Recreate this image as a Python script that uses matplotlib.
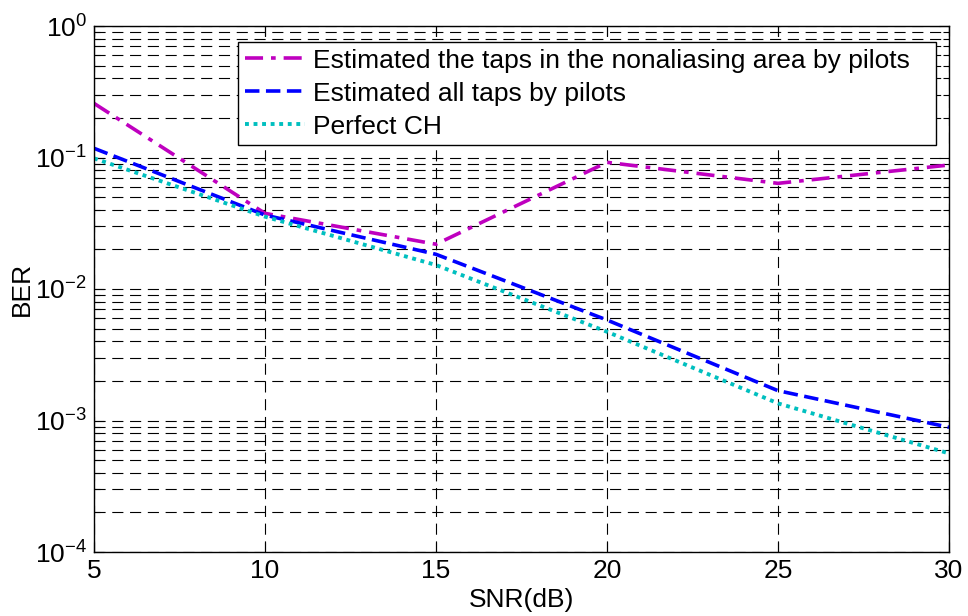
import matplotlib
matplotlib.use("Agg")
import matplotlib.pyplot as plt
from matplotlib.ticker import LogLocator, NullFormatter, FixedLocator

plt.rcParams['font.family'] = ['Liberation Sans', 'DejaVu Sans']

snr = [5, 10, 15, 20, 25, 30]
ber_nonalias = [0.258, 0.0376, 0.0219, 0.0919, 0.0636, 0.0877]
ber_all_taps = [0.1175, 0.0365, 0.01836, 0.00581, 0.001686, 0.000888]
ber_perfect = [0.0986, 0.0355, 0.01522, 0.00473, 0.00135, 0.000562]

labels = ["Estimated the taps in the nonaliasing area by pilots",
          "Estimated all taps by pilots",
          "Perfect CH"]
x_ticks = [5, 10, 15, 20, 25, 30]

FS = 19

fig = plt.figure(figsize=(9.68, 6.16), dpi=100)
ax = fig.add_axes([94 / 968, 64 / 616, 855 / 968, 526 / 616])

ax.plot(snr, ber_nonalias, color='#BF00BF', lw=2.6, linestyle=(0, (5, 2.2, 1.3, 2.2)),
        label=labels[0])
ax.plot(snr, ber_all_taps, color='#0000FF', lw=2.6, linestyle=(0, (4, 1.8)),
        label=labels[1])
ax.plot(snr, ber_perfect, color='#00BFBF', lw=2.8, linestyle=(0, (1, 1.2)),
        label=labels[2])

ax.set_yscale('log')
ax.set_xlim(5, 30)
ax.set_ylim(1e-4, 1e0)
ax.xaxis.set_major_locator(FixedLocator(x_ticks))
ax.yaxis.set_major_locator(LogLocator(base=10, numticks=10))
ax.yaxis.set_minor_locator(LogLocator(base=10, subs=range(2, 10), numticks=100))
ax.yaxis.set_minor_formatter(NullFormatter())

grid_kw = dict(color='black', linestyle=(0, (10, 6)), linewidth=0.8)
ax.grid(True, which='major', axis='both', **grid_kw)
ax.grid(True, which='minor', axis='y', **grid_kw)
ax.set_axisbelow(True)

ax.tick_params(which='both', direction='in', top=True, right=True, labelsize=FS, width=0.8)
ax.tick_params(which='major', length=7, pad=5)
ax.tick_params(which='minor', length=4)
for s in ax.spines.values():
    s.set_linewidth(1.0)

ax.set_xlabel('SNR(dB)', fontsize=FS, labelpad=4)
ax.set_ylabel('BER', fontsize=FS, labelpad=1)

# legend box spans a fixed width inside the axes
x0 = (238 - 94) / 855
x1 = (936 - 94) / 855
ytop = (552 - 42) / 526
leg = ax.legend(loc='upper left', bbox_to_anchor=(x0, ytop - 0.2, x1 - x0, 0.2),
                mode='expand', borderaxespad=0, fontsize=FS, fancybox=False,
                framealpha=1, edgecolor='black', handlelength=2.3,
                handletextpad=0.28, labelspacing=0.34, borderpad=0.25)
leg.get_frame().set_linewidth(1.0)

fig.savefig('out.png', dpi=100)
